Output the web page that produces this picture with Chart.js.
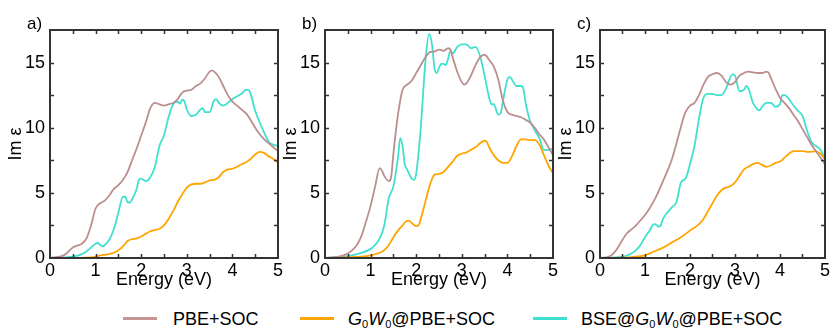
<!DOCTYPE html>
<html>
<head>
<meta charset="utf-8">
<script src="https://cdn.jsdelivr.net/npm/chart.js@4.4.0/dist/chart.umd.min.js"></script>
<style>
  html, body { margin: 0; padding: 0; background: #fff; }
  body { width: 832px; height: 328px; position: relative; overflow: hidden; font-family: "Liberation Sans", Arial, sans-serif; }
  canvas { position: absolute; top: 0; }
  .plab { position: absolute; font-size: 17px; line-height: 17px; color: #000; }
  .leg { position: absolute; top: 308px; height: 22px; line-height: 22px; font-size: 18px; color: #000; white-space: nowrap; }
  .sw { position: absolute; top: 317px; height: 3px; width: 34px; }
  sub { font-size: 11px; vertical-align: -3px; line-height: 0; }
</style>
</head>
<body>
<canvas id="ca" width="285" height="300" style="left:0px"></canvas>
<canvas id="cb" width="285" height="300" style="left:275px"></canvas>
<canvas id="cc" width="282" height="300" style="left:550px"></canvas>
<div class="plab" style="left:27px;top:15px">a)</div>
<div class="plab" style="left:302px;top:15px">b)</div>
<div class="plab" style="left:577px;top:15px">c)</div>
<div class="sw" style="left:123px;background:#c49494"></div>
<div class="leg" style="left:173px">PBE+SOC</div>
<div class="sw" style="left:300px;background:#ffa500"></div>
<div class="leg" style="left:348px"><i>G</i><sub>0</sub><i>W</i><sub>0</sub>@PBE+SOC</div>
<div class="sw" style="left:533px;background:#40e0d0"></div>
<div class="leg" style="left:581px">BSE@<i>G</i><sub>0</sub><i>W</i><sub>0</sub>@PBE+SOC</div>
<script>
// ---------- data (energy eV, Im eps) ----------
const seriesNames = ['PBE+SOC', 'G0W0@PBE+SOC', 'BSE@G0W0@PBE+SOC'];
const xTicks = [0, 1, 2, 3, 4, 5];
const yTicks = [0, 5, 10, 15];

const pbeA = [[0,0],[0.3,0.2],[0.5,0.8],[0.6,0.95],[0.7,1.1],[0.8,1.5],[0.9,2.5],[1.0,3.8],[1.1,4.2],[1.2,4.4],[1.3,4.8],[1.4,5.3],[1.5,5.6],[1.6,6.0],[1.7,6.6],[1.8,7.5],[1.9,8.4],[2.0,9.4],[2.1,10.4],[2.2,11.5],[2.3,11.9],[2.4,11.8],[2.5,11.7],[2.6,11.8],[2.7,11.9],[2.8,12.2],[2.9,12.7],[3.0,12.85],[3.1,12.9],[3.2,13.2],[3.3,13.4],[3.4,13.8],[3.5,14.3],[3.55,14.4],[3.6,14.3],[3.7,13.9],[3.8,13.2],[3.9,12.5],[4.0,12.0],[4.1,11.7],[4.2,11.4],[4.3,11.1],[4.4,10.6],[4.5,10.0],[4.6,9.5],[4.7,9.1],[4.8,8.8],[4.9,8.5],[5.0,8.2]];
const gwA = [[0,0],[0.9,0.05],[1.0,0.1],[1.1,0.2],[1.2,0.25],[1.3,0.3],[1.4,0.4],[1.5,0.6],[1.6,0.9],[1.7,1.3],[1.8,1.45],[1.9,1.5],[2.0,1.65],[2.1,1.85],[2.2,2.05],[2.3,2.15],[2.4,2.25],[2.5,2.5],[2.6,3.0],[2.7,3.6],[2.8,4.3],[2.9,4.9],[3.0,5.4],[3.1,5.65],[3.2,5.7],[3.3,5.7],[3.4,5.8],[3.5,5.95],[3.6,6.0],[3.7,6.2],[3.8,6.6],[3.9,6.8],[4.0,6.85],[4.1,7.0],[4.2,7.2],[4.3,7.35],[4.4,7.6],[4.5,7.95],[4.6,8.15],[4.7,8.05],[4.8,7.8],[4.9,7.6],[5.0,7.3]];
const bseA = [[0,0],[0.5,0.1],[0.7,0.3],[0.8,0.5],[0.9,0.8],[1.0,1.1],[1.05,1.15],[1.1,1.0],[1.15,0.9],[1.2,1.0],[1.3,1.4],[1.4,2.2],[1.5,3.5],[1.6,4.7],[1.65,4.7],[1.7,4.3],[1.75,4.25],[1.8,4.5],[1.9,5.3],[1.95,6.0],[2.0,6.1],[2.1,5.9],[2.2,6.2],[2.3,7.0],[2.4,8.6],[2.5,9.4],[2.6,10.8],[2.7,11.8],[2.8,12.0],[2.85,11.85],[2.9,12.15],[2.95,12.0],[3.0,11.4],[3.1,10.9],[3.2,11.0],[3.3,11.4],[3.35,11.5],[3.4,11.2],[3.5,11.2],[3.6,12.1],[3.65,12.2],[3.7,11.9],[3.8,11.7],[3.9,11.9],[4.0,12.2],[4.1,12.4],[4.2,12.6],[4.3,12.9],[4.35,12.9],[4.4,12.6],[4.5,11.3],[4.6,10.4],[4.7,9.6],[4.8,8.9],[4.9,8.7],[5.0,8.6]];

const pbeB = [[0,0],[0.3,0.1],[0.5,0.35],[0.6,0.6],[0.7,1.0],[0.8,1.7],[0.9,2.8],[1.0,4.0],[1.1,5.5],[1.2,6.9],[1.25,6.7],[1.3,6.3],[1.4,5.9],[1.45,6.2],[1.5,8.0],[1.6,11.0],[1.7,12.9],[1.8,13.3],[1.9,13.6],[2.0,14.2],[2.1,14.8],[2.2,15.4],[2.3,15.8],[2.4,15.85],[2.5,16.0],[2.6,15.9],[2.7,16.1],[2.75,16.0],[2.8,15.4],[2.9,14.3],[3.0,13.5],[3.05,13.3],[3.1,13.4],[3.2,14.0],[3.3,14.8],[3.4,15.4],[3.5,15.6],[3.6,15.2],[3.7,14.7],[3.8,13.7],[3.9,12.1],[4.0,11.2],[4.1,11.0],[4.2,10.9],[4.3,10.8],[4.4,10.6],[4.5,10.4],[4.6,10.0],[4.7,9.5],[4.8,9.1],[4.9,8.5],[5.0,7.9]];
const gwB = [[0,0],[0.8,0.1],[1.0,0.2],[1.2,0.4],[1.3,0.6],[1.4,1.0],[1.5,1.6],[1.6,2.1],[1.7,2.5],[1.8,2.85],[1.85,2.85],[1.9,2.7],[2.0,2.45],[2.05,2.5],[2.1,3.0],[2.2,4.3],[2.3,5.6],[2.4,6.4],[2.5,6.45],[2.6,6.6],[2.7,7.0],[2.8,7.4],[2.9,7.85],[3.0,8.0],[3.1,8.1],[3.2,8.3],[3.3,8.5],[3.4,8.8],[3.5,9.0],[3.55,8.9],[3.6,8.5],[3.7,7.9],[3.8,7.5],[3.9,7.3],[4.0,7.3],[4.1,7.8],[4.2,8.6],[4.3,9.1],[4.4,9.1],[4.5,9.05],[4.6,9.05],[4.7,8.7],[4.8,7.9],[4.9,7.1],[5.0,6.5]];
const bseB = [[0,0],[0.5,0.15],[0.8,0.4],[1.0,0.7],[1.1,1.0],[1.2,1.5],[1.3,2.5],[1.4,4.6],[1.5,5.5],[1.6,7.7],[1.65,9.2],[1.7,8.6],[1.75,7.2],[1.8,6.8],[1.9,6.1],[1.95,6.0],[2.0,6.5],[2.1,10.0],[2.2,15.0],[2.28,17.2],[2.35,16.3],[2.4,14.6],[2.45,14.2],[2.5,14.6],[2.55,14.9],[2.6,14.9],[2.65,14.8],[2.7,15.3],[2.75,15.9],[2.8,15.7],[2.9,16.2],[3.0,16.4],[3.1,16.4],[3.2,16.1],[3.3,16.2],[3.4,15.5],[3.5,14.0],[3.6,12.3],[3.65,11.8],[3.7,11.8],[3.8,11.0],[3.85,11.1],[3.9,12.0],[4.0,13.7],[4.05,13.9],[4.1,13.7],[4.2,13.2],[4.3,13.2],[4.35,13.0],[4.4,11.9],[4.5,10.5],[4.6,9.8],[4.7,9.2],[4.8,8.3],[4.9,8.3],[5.0,8.4]];

const pbeC = [[0,0],[0.2,0.1],[0.3,0.35],[0.4,0.8],[0.5,1.4],[0.6,1.9],[0.7,2.2],[0.8,2.5],[0.9,2.9],[1.0,3.3],[1.1,3.8],[1.2,4.4],[1.3,5.1],[1.4,5.9],[1.5,6.7],[1.6,7.6],[1.7,8.8],[1.8,10.1],[1.9,11.2],[2.0,11.7],[2.1,11.9],[2.2,12.5],[2.3,13.3],[2.4,13.9],[2.5,14.1],[2.6,14.2],[2.7,14.0],[2.8,13.5],[2.9,13.3],[3.0,13.5],[3.1,14.0],[3.2,14.2],[3.3,14.3],[3.4,14.25],[3.5,14.2],[3.6,14.2],[3.7,14.3],[3.75,14.2],[3.8,13.8],[3.9,13.0],[4.0,12.3],[4.1,11.9],[4.2,11.5],[4.3,11.0],[4.4,10.5],[4.5,9.9],[4.6,9.3],[4.7,8.7],[4.8,8.2],[4.9,7.7],[5.0,7.2]];
const gwC = [[0,0],[0.5,0.02],[0.8,0.1],[1.0,0.2],[1.2,0.5],[1.4,0.8],[1.6,1.2],[1.8,1.6],[2.0,2.1],[2.2,2.6],[2.3,3.0],[2.4,3.6],[2.5,4.2],[2.6,4.8],[2.7,5.2],[2.8,5.4],[2.9,5.5],[3.0,5.8],[3.1,6.3],[3.2,6.8],[3.3,7.0],[3.4,7.2],[3.5,7.3],[3.6,7.15],[3.7,7.0],[3.8,7.1],[3.9,7.3],[4.0,7.4],[4.1,7.7],[4.2,8.0],[4.3,8.2],[4.4,8.2],[4.5,8.2],[4.6,8.15],[4.7,8.15],[4.8,8.2],[4.9,8.0],[5.0,7.6]];
const bseC = [[0,0],[0.5,0.1],[0.7,0.35],[0.8,0.6],[0.9,1.0],[1.0,1.6],[1.1,2.1],[1.2,2.6],[1.25,2.55],[1.3,2.4],[1.35,2.5],[1.4,3.0],[1.5,3.5],[1.6,3.9],[1.7,4.3],[1.8,5.8],[1.9,6.1],[2.0,7.2],[2.1,8.6],[2.2,10.7],[2.3,12.3],[2.4,12.6],[2.5,12.6],[2.6,12.5],[2.7,12.5],[2.8,13.0],[2.9,13.9],[2.95,14.1],[3.0,14.0],[3.1,12.8],[3.2,12.9],[3.25,13.2],[3.3,13.0],[3.4,11.9],[3.5,11.4],[3.55,11.35],[3.6,11.6],[3.7,11.9],[3.8,11.9],[3.9,11.6],[4.0,11.8],[4.05,12.5],[4.1,12.5],[4.2,12.2],[4.3,11.7],[4.4,11.3],[4.5,10.9],[4.6,9.8],[4.7,8.9],[4.8,8.6],[4.9,8.3],[5.0,7.6]];

// ---------- styling ----------
const colors = ['#bc8f8f', '#ffa500', '#40e0d0'];
const FONT = '"Liberation Sans", Arial, sans-serif';
const FRAME = '#333333';

const frameTicks = {
  id: 'frameTicks',
  afterDatasetsDraw(chart) {
    const {ctx, chartArea: a, scales: {x, y}} = chart;
    ctx.save();
    ctx.strokeStyle = FRAME;
    ctx.lineWidth = 1.5;
    ctx.beginPath();
    const L = 4;
    for (let v = 0.5; v < 5; v += 0.5) {
      const px = Math.round(x.getPixelForValue(v)) + 0.5;
      ctx.moveTo(px, a.bottom); ctx.lineTo(px, a.bottom - L);
      ctx.moveTo(px, a.top); ctx.lineTo(px, a.top + L);
    }
    for (let v = 2.5; v < 17.5; v += 2.5) {
      const py = Math.round(y.getPixelForValue(v)) + 0.5;
      ctx.moveTo(a.left, py); ctx.lineTo(a.left + L, py);
      ctx.moveTo(a.right, py); ctx.lineTo(a.right - L, py);
    }
    ctx.stroke();
    ctx.lineWidth = 2;
    ctx.strokeRect(a.left, a.top, a.right - a.left, a.bottom - a.top);
    ctx.restore();
  }
};

function makeChart(id, sets, rightPad) {
  const toPts = arr => arr.map(p => ({x: p[0], y: p[1]}));
  new Chart(document.getElementById(id), {
    type: 'line',
    data: {
      datasets: sets.map((s, i) => ({
        label: seriesNames[i],
        data: toPts(s),
        borderColor: colors[i],
        borderWidth: 1.8,
        pointRadius: 0,
        fill: false,
        cubicInterpolationMode: 'monotone'
      }))
    },
    options: {
      responsive: false,
      animation: false,
      devicePixelRatio: 1,
      events: [],
      layout: { padding: { top: 30, right: rightPad, bottom: 0, left: 0 } },
      plugins: { legend: { display: false }, tooltip: { enabled: false } },
      scales: {
        x: {
          type: 'linear', min: 0, max: 5,
          afterBuildTicks: s => { s.ticks = xTicks.map(v => ({value: v})); },
          afterFit: s => { s.height = 42; },
          grid: { display: false, drawTicks: false },
          border: { display: false },
          ticks: { color: '#000', font: { family: FONT, size: 18 }, padding: 2, maxRotation: 0 },
          title: { display: true, text: 'Energy (eV)', color: '#000', font: { family: FONT, size: 18 }, padding: { top: 0, bottom: 9 } }
        },
        y: {
          type: 'linear', min: 0, max: 17.5,
          afterBuildTicks: s => { s.ticks = yTicks.map(v => ({value: v})); },
          afterFit: s => { s.width = 50; },
          grid: { display: false, drawTicks: false },
          border: { display: false },
          ticks: { color: '#000', font: { family: FONT, size: 18 }, padding: 5 },
          title: { display: true, text: 'Im ε', color: '#000', font: { family: FONT, size: 18 }, padding: { top: 5, bottom: 0 } }
        }
      }
    },
    plugins: [frameTicks]
  });
}

makeChart('ca', [pbeA, gwA, bseA], 6);
makeChart('cb', [pbeB, gwB, bseB], 6);
makeChart('cc', [pbeC, gwC, bseC], 3);
</script>
</body>
</html>
